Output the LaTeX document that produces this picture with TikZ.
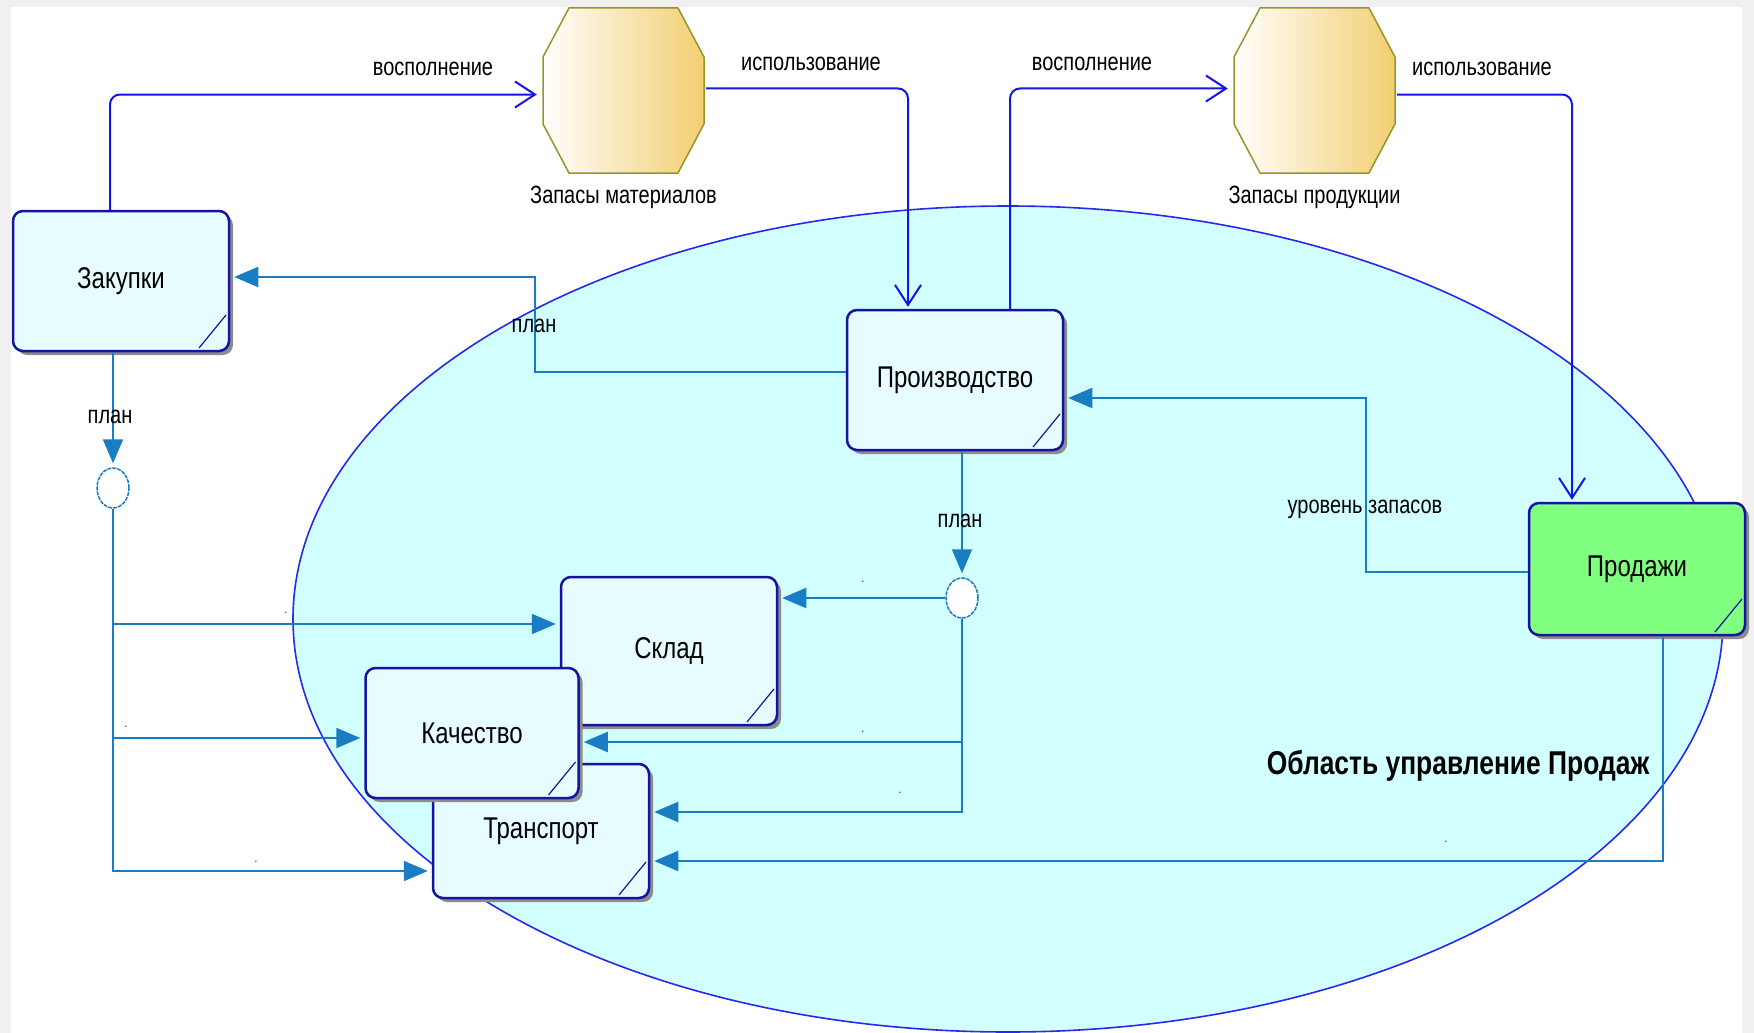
\documentclass[tikz,border=0pt]{standalone}
\usepackage{fontspec}
\setmainfont{Liberation Sans}[FakeStretch=0.8]
\usetikzlibrary{positioning}
\usetikzlibrary{shapes.geometric, shadows, arrows.meta}

\definecolor{boxfill}{RGB}{230,252,255}
\definecolor{boxline}{RGB}{20,20,160}
\definecolor{shadowgray}{RGB}{140,140,140}
\definecolor{areafill}{RGB}{210,255,255}
\definecolor{arealine}{RGB}{40,40,240}
\definecolor{flowblue}{RGB}{20,20,235}
\definecolor{infoblue}{RGB}{25,125,195}
\definecolor{salesgreen}{RGB}{128,255,128}
\definecolor{octgold}{RGB}{242,206,112}
\definecolor{octline}{RGB}{150,150,40}
\definecolor{framegray}{RGB}{240,240,240}

\tikzset{
  procbox/.style={rectangle, rounded corners=10pt, draw=boxline, line width=2.5pt,
    fill=boxfill, minimum width=216pt, minimum height=140pt,
    font=\fontsize{30}{34}\selectfont,
    drop shadow={shadow xshift=4pt, shadow yshift=-4pt, fill=shadowgray, opacity=1},
    path picture={\draw[boxline, line width=1.2pt]
      ([xshift=-3pt,yshift=36pt]path picture bounding box.south east) --
      ([xshift=-30pt,yshift=3pt]path picture bounding box.south east);}},
  stock/.style={rectangle, minimum width=165pt, minimum height=169pt, inner sep=0pt,
    path picture={\shade[left color=white, right color=octgold, draw=octline, line width=1.5pt]
      ([xshift=-54.5pt,yshift=82.5pt]path picture bounding box.center) --
      ([xshift=54.5pt,yshift=82.5pt]path picture bounding box.center) --
      ([xshift=80.5pt,yshift=33.5pt]path picture bounding box.center) --
      ([xshift=80.5pt,yshift=-33.5pt]path picture bounding box.center) --
      ([xshift=54.5pt,yshift=-82.5pt]path picture bounding box.center) --
      ([xshift=-54.5pt,yshift=-82.5pt]path picture bounding box.center) --
      ([xshift=-80.5pt,yshift=-33.5pt]path picture bounding box.center) --
      ([xshift=-80.5pt,yshift=33.5pt]path picture bounding box.center) -- cycle;}},
  junction/.style={ellipse, minimum width=32pt, minimum height=40pt, inner sep=0pt,
    draw=infoblue, line width=1.5pt, dash pattern=on 4pt off 1pt, fill=white},
  area/.style={ellipse, minimum width=1430pt, minimum height=826pt,
    draw=arealine, line width=1.6pt, fill=areafill},
  flow/.style={draw=flowblue, line width=2pt, rounded corners=10pt,
    -{Straight Barb[length=20pt,width=26pt]}, shorten >=2pt},
  info/.style={draw=infoblue, line width=2pt,
    -{Triangle[length=24pt,width=20pt]}, shorten >=4pt},
  lbl/.style={font=\fontsize{25}{28}\selectfont, inner sep=1pt},
  dotlbl/.style={font=\fontsize{12}{12}\selectfont, inner sep=0pt}
}

\begin{document}
\begin{tikzpicture}[x=1pt,y=-1pt]
\useasboundingbox (0,0) rectangle (1754,1033);
\fill[framegray] (0,0) rectangle (1754,1033);
\fill[white] (11,7) rectangle (1742,1033);

% area
\node[area] (area) at (1008,619) {};
\node[font=\fontsize{33}{36}\selectfont\bfseries] (areaname) at (1458,766) {Область управление Продаж};

% stocks
\node[stock] (matstock) at (623.5,90.5) {};
\node[lbl, below=10pt of matstock] (matname) {Запасы материалов};
\node[stock] (prodstock) at (1314.5,90.5) {};
\node[lbl, below=10pt of prodstock] (prodname) {Запасы продукции};

% processes
\node[procbox] (zak) at (121,281) {Закупки};
\node[procbox] (proizv) at (955,380) {Производство};
\node[procbox, fill=salesgreen, minimum height=132pt] (prod) at (1637,569) {Продажи};
\node[procbox, minimum height=148pt] (sklad) at (669,651) {Склад};
\node[procbox, minimum height=134pt] (trans) at (541,831) {Транспорт};
\node[procbox, minimum width=213pt, minimum height=130pt] (kach) at (472,733) {Качество};

% junctions
\node[junction] (c1) at (113,488) {};
\node[junction] (c2) at (962,598) {};

% material flows
\draw[flow] ([xshift=-11pt]zak.north) |- ([yshift=-4pt,xshift=-2pt]matstock.west);
\node[lbl] (l1) at (433,69) {восполнение};
\draw[flow, shorten <=2pt] ([yshift=2pt,xshift=-2pt]matstock.east) -| ([xshift=-47pt]proizv.north);
\node[lbl] (l2) at (811,64) {использование};
\draw[flow] ([xshift=55pt]proizv.north) |- ([yshift=2pt,xshift=-2pt]prodstock.west);
\node[lbl] (l3) at (1092,64) {восполнение};
\draw[flow, shorten <=2pt] ([yshift=-4pt,xshift=-2pt]prodstock.east) -| ([xshift=-65pt]prod.north);
\node[lbl] (l4) at (1482,69) {использование};

% plans
\draw[info] ([yshift=8pt]proizv.west) -- (535,372) |- ([yshift=4pt]zak.east);
\node[lbl] (l5) at (534,326) {план};
\draw[info] (zak.south -| c1) -- (c1.north);
\node[lbl] (l6) at (110,417) {план};
\draw[info] (proizv.south -| c2) -- (c2.north);
\node[lbl] (l7) at (960,521) {план};

\coordinate (skl-in) at ([yshift=27pt]sklad.west);
\coordinate (kach-in) at ([yshift=-5pt]kach.west);
\coordinate (trans-in) at ([yshift=-40pt]trans.west);
\draw[info] (c1.south) |- (trans-in);
\draw[info] (c1 |- skl-in) -- (skl-in);
\draw[info] (c1 |- kach-in) -- (kach-in);

\coordinate (kach-out) at ([yshift=-9pt]kach.east);
\coordinate (trans-out) at ([yshift=19pt]trans.east);
\draw[info] (c2.west) -- (c2.west -| sklad.east);
\draw[info] (c2.south) |- (trans-out);
\draw[info] (c2 |- kach-out) -- (kach-out);

% sales
\draw[info] ([yshift=-3pt]prod.west) -- (1366,572) |- ([yshift=-18pt]proizv.east);
\node[lbl] (l8) at (1365,509) {уровень запасов};
\draw[info] ([xshift=26pt]prod.south) |- ([yshift=-30pt]trans.east);

% empty labels
\node[dotlbl] (d1) at (286,613) {.};
\node[dotlbl] (d2) at (126,727) {.};
\node[dotlbl] (d3) at (256,862) {.};
\node[dotlbl] (d4) at (863,582) {.};
\node[dotlbl] (d5) at (863,732) {.};
\node[dotlbl] (d6) at (900,793) {.};
\node[dotlbl] (d7) at (1446,842) {.};
\end{tikzpicture}
\end{document}
